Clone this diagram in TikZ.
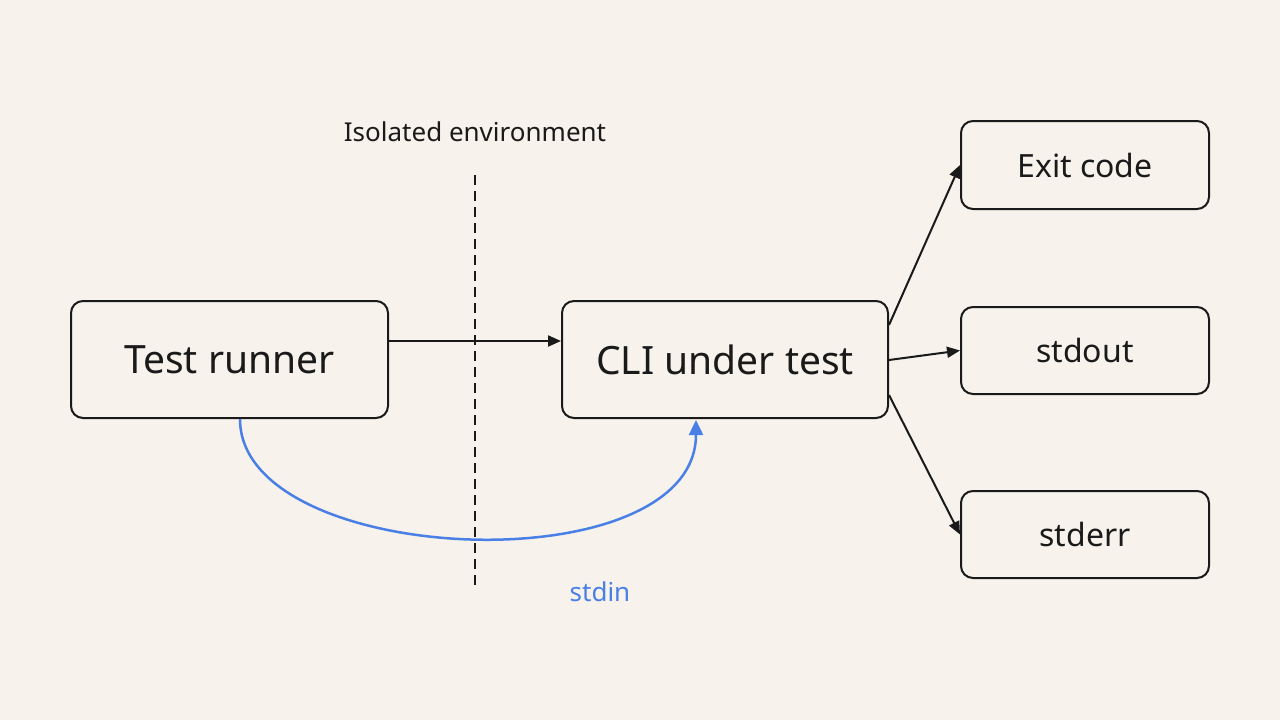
\documentclass[tikz,border=0pt]{standalone}
\usepackage{fontspec}
\setmainfont{Noto Sans}
\usetikzlibrary{arrows.meta}
\definecolor{bg}{HTML}{F7F3EC}
\definecolor{ink}{HTML}{1A1A1A}
\definecolor{blu}{HTML}{4A7FE6}
\begin{document}
\begin{tikzpicture}[x=1pt,y=-1pt,
 box/.style={draw=ink,line width=2pt,rounded corners=12pt,fill=bg,text=ink,inner sep=0pt},
 arr/.style={draw=ink,line width=2pt,-{Triangle[length=13pt,width=11pt]}}]
\fill[bg] (0,0) rectangle (1280,720);
\useasboundingbox (0,0) rectangle (1280,720);
\node[box,minimum width=317pt,minimum height=117pt,font=\fontsize{39}{40}\selectfont] (tr) at (229.5,359.5) {Test runner};
\node[box,minimum width=326pt,minimum height=117pt,font=\fontsize{39}{40}\selectfont] (cli) at (725,359.5) {CLI under test};
\node[box,minimum width=248pt,minimum height=88pt,font=\fontsize{32}{33}\selectfont] (ec) at (1085,165) {Exit code};
\node[box,minimum width=248pt,minimum height=87pt,font=\fontsize{32}{33}\selectfont] (so) at (1085,350.5) {stdout};
\node[box,minimum width=248pt,minimum height=87pt,font=\fontsize{32}{33}\selectfont] (se) at (1085,534.5) {stderr};
\node[text=ink,font=\fontsize{26}{27}\selectfont] (iso) at (475,132) {Isolated environment};
\coordinate (d1) at (475,175); \coordinate (d2) at (475,590);
\draw[ink,line width=2pt,dash pattern=on 10pt off 6pt] (d1) -- (d2);
\draw[arr] (tr.east |- 0,341) -- (cli.west |- 0,341);
\draw[arr] (cli.east |- 0,325) -- (ec.west);
\draw[arr] (cli.east |- 0,360) -- (so.west);
\draw[arr] (cli.east |- 0,395) -- (se.west);
\coordinate (s1) at (240,419); \coordinate (s2) at (696,420);
\draw[blu,line width=2.5pt,-{Triangle[length=15pt,width=14pt]}] (s1) .. controls (240,568) and (696,586) .. (s2);
\node[text=blu,font=\fontsize{26}{27}\selectfont] (sd) at (600,592) {stdin};
\end{tikzpicture}
\end{document}
